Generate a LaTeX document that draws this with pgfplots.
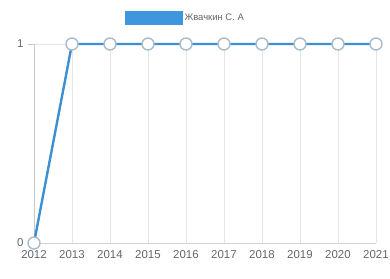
\documentclass[border=0pt]{standalone}
\usepackage{pgfplots}
\pgfplotsset{compat=1.18}
\usepackage{fontspec}
\setmainfont{Liberation Sans}
\definecolor{lineblue}{HTML}{3C8FD2}
\definecolor{legblue}{HTML}{3E97DE}
\definecolor{markedge}{HTML}{A9BDCC}
\definecolor{gridc}{HTML}{E6E6E6}
\definecolor{txt}{HTML}{666666}
\begin{document}
\begin{tikzpicture}[x=1bp,y=1bp]
\useasboundingbox (0,0) rectangle (390,279);
\begin{axis}[
  at={(34bp,36bp)}, anchor=south west,
  scale only axis, width=342bp, height=199bp,
  xmin=2012, xmax=2021, ymin=0, ymax=1,
  xtick={2012,...,2021}, ytick={0,1},
  xticklabel style={/pgf/number format/1000 sep={}},
  /pgf/number format/assume math mode=true,
  ticklabel style={font=\fontsize{11.5}{13}\selectfont, text=txt},
  xticklabel style={yshift=-4bp},
  yticklabel style={xshift=-1bp},
  xmajorgrids, ymajorgrids,
  grid style={gridc, line width=0.8bp},
  axis x line*=bottom, axis y line*=left,
  x axis line style={draw=gridc!80!gray, -},
  y axis line style={draw=gridc!70!gray, -},
  xtick style={draw=none},
  ytick style={draw=gridc!70!gray, line width=0.8bp},
  major tick length=6bp,
  ytick align=outside,
  clip=false,
  legend style={at={(0.266,1.13)}, anchor=west, draw=none, fill=none, inner sep=0pt,
    font=\fontsize{9.5}{10}\selectfont, text=txt},
  legend image code/.code={\fill[legblue] (0bp,-6bp) rectangle (55bp,6bp);},
]
\addplot[lineblue, line width=2.4bp, mark=*, mark size=6bp,
  mark options={fill=white, draw=markedge, line width=1.4bp}]
  coordinates {(2012,0) (2013,1) (2014,1) (2015,1) (2016,1) (2017,1) (2018,1) (2019,1) (2020,1) (2021,1)};
\addlegendentry{Жвачкин С. А}
\end{axis}
\end{tikzpicture}
\end{document}
